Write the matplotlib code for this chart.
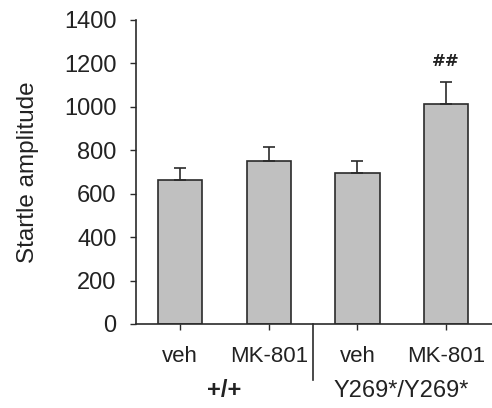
import matplotlib
matplotlib.use("Agg")
import matplotlib.pyplot as plt
import matplotlib.transforms as mtransforms

# data
conditions = ["veh", "MK-801", "veh", "MK-801"]
means = [663, 752, 697, 1013]
sem = [56, 65, 55, 103]
groups = ["+/+", "Y269*/Y269*"]
yticks = [0, 200, 400, 600, 800, 1000, 1200, 1400]

plt.rcParams['font.family'] = ['Liberation Sans', 'DejaVu Sans']

fig = plt.figure(figsize=(4.92, 4.08), dpi=100)
ax = fig.add_axes([0.2764, 0.2059, 0.7236, 0.7451])

x = list(range(len(means)))
ax.bar(x, means, width=0.5, color="#c0c0c0", edgecolor="#2b2b2b", linewidth=1.2)
ax.errorbar(x, means, yerr=[[0] * len(sem), sem], fmt="none", ecolor="#2b2b2b",
            elinewidth=1.2, capsize=4.5, capthick=1.2)

ax.set_xlim(-0.5, 3.52)
ax.set_ylim(0, 1400)
ax.set_yticks(yticks)
ax.set_xticks(x)
ax.set_xticklabels(conditions)
ax.tick_params(axis="both", colors="#2b2b2b", length=4, width=1)
ax.tick_params(axis="y", labelsize=17, pad=10)
ax.tick_params(axis="x", labelsize=16, pad=12)
for lbl in ax.get_xticklabels() + ax.get_yticklabels():
    lbl.set_color("#222222")
ax.spines["top"].set_visible(False)
ax.spines["right"].set_visible(False)
for s in ("left", "bottom"):
    ax.spines[s].set_color("#2b2b2b")
    ax.spines[s].set_linewidth(1.2)
ax.set_ylabel("Startle amplitude", fontsize=17.5, color="#222222", labelpad=18)

# separator between genotype groups and group labels
trans = mtransforms.blended_transform_factory(ax.transData, ax.transAxes)
ax.plot([1.5, 1.5], [0, -0.184], transform=trans, color="#2b2b2b",
        linewidth=1.2, clip_on=False)
ax.text(0.5, -0.22, groups[0], transform=trans, ha="center", va="center",
        fontsize=17, color="#222222", fontweight="bold")
ax.text(2.5, -0.22, groups[1], transform=trans, ha="center", va="center",
        fontsize=17, color="#222222")

# significance mark
ax.text(3, means[3] + sem[3] + 95, "##", ha="center", va="center",
        fontsize=12, color="#222222", family="DejaVu Serif", fontweight="bold")

fig.savefig("out.png", dpi=100)
